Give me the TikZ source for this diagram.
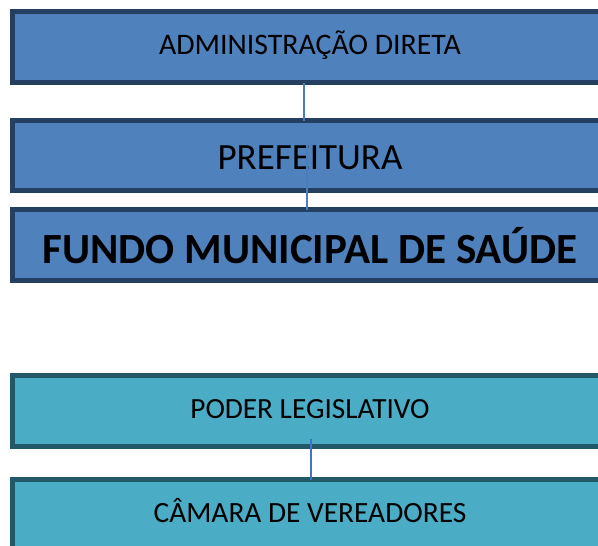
\documentclass[tikz,border=0pt]{standalone}
\usepackage{fontspec}
\setmainfont{Carlito}
\definecolor{bluefill}{HTML}{4F81BD}
\definecolor{blueedge}{HTML}{243F60}
\definecolor{tealfill}{HTML}{4BACC6}
\definecolor{tealedge}{HTML}{215968}
\definecolor{linkblue}{HTML}{4A7EBB}
\definecolor{linkblue2}{HTML}{4472C4}
\begin{document}
\begin{tikzpicture}[x=1pt,y=-1pt,
  bluebox/.style={draw=blueedge,fill=bluefill,line width=5pt,minimum width=595pt,inner sep=0pt,outer sep=0pt},
  tealbox/.style={draw=tealedge,fill=tealfill,line width=5pt,minimum width=595pt,inner sep=0pt,outer sep=0pt},
  lbl/.style={inner sep=0pt},
  link/.style={draw=linkblue,line width=1.2pt}]
\useasboundingbox (0,0) rectangle (598,546);
\clip (0,0) rectangle (598,546);
\node[bluebox,minimum height=71pt] (adm) at (310,47) {};
\node[bluebox,minimum height=70pt] (pref) at (310,155.5) {};
\node[bluebox,minimum height=71pt] (fundo) at (310,245) {};
\node[tealbox,minimum height=71pt] (poder) at (310,411) {};
\node[tealbox,minimum height=71pt] (camara) at (310,515) {};
\node[lbl] (admt) at ([yshift=2pt]adm.center) {\fontsize{29.8}{34}\selectfont ADMINISTRAÇÃO DIRETA};
\node[lbl] (preft) at ([yshift=-2.5pt]pref.center) {\fontsize{37}{42}\selectfont PREFEITURA};
\node[lbl] (fundot) at ([yshift=-1pt]fundo.center) {\fontsize{43}{48}\selectfont\bfseries FUNDO MUNICIPAL DE SAÚDE};
\node[lbl] (podert) at ([yshift=2pt]poder.center) {\fontsize{29.3}{34}\selectfont PODER LEGISLATIVO};
\node[lbl] (camarat) at ([yshift=4.5pt]camara.center) {\fontsize{29.4}{34}\selectfont CÂMARA DE VEREADORES};
\coordinate (c1) at (304,0);
\coordinate (c2) at (307,143);
\coordinate (c3) at (311,439);
\draw[link] (adm.south -| c1) -- (pref.north -| c1);
\draw[link] (c2) -- (fundo.north -| c2);
\draw[draw=linkblue2,line width=2pt] (c3) -- (camara.north -| c3);
\end{tikzpicture}
\end{document}
